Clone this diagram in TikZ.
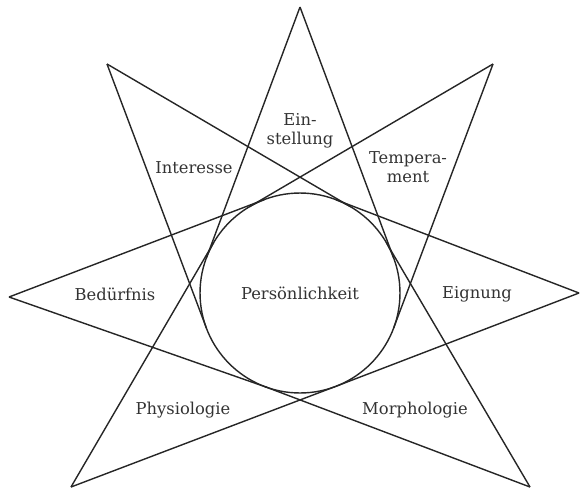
\documentclass[tikz,border=0pt]{standalone}
\usepackage{fontspec}
\setmainfont{DejaVu Serif}
\usepackage{tikz}
\usetikzlibrary{calc}

\begin{document}
\begin{tikzpicture}[x=0.02cm, y=0.02cm, line width=0.8pt, draw=black!85,
    lbl/.style={font=\fontsize{9.3}{11}\selectfont, text=black!80, align=center, inner sep=0pt}]
            \useasboundingbox (0,0) rectangle (580,488);

            \node[lbl, circle, draw, minimum size=4cm, outer sep=0pt] (pers) at (300,195) {Persönlichkeit};

            \coordinate (T) at (300,481);
            \coordinate (UL) at (107,424);
            \coordinate (UR) at (493,424);
            \coordinate (L) at (9,191);
            \coordinate (R) at (579,195);
            \coordinate (LL) at (71,1);
            \coordinate (LR) at (530,1);

            % points where the sides touch the circle
            \coordinate (T1) at (tangent cs:node=pers,point={(T)},solution=1);
            \coordinate (T2) at (tangent cs:node=pers,point={(T)},solution=2);
            \coordinate (UL1) at (tangent cs:node=pers,point={(UL)},solution=1);
            \coordinate (UL2) at (tangent cs:node=pers,point={(UL)},solution=2);
            \coordinate (UR1) at (tangent cs:node=pers,point={(UR)},solution=1);
            \coordinate (UR2) at (tangent cs:node=pers,point={(UR)},solution=2);
            \coordinate (L1) at (tangent cs:node=pers,point={(L)},solution=1);
            \coordinate (L2) at (tangent cs:node=pers,point={(L)},solution=2);
            \coordinate (R1) at (tangent cs:node=pers,point={(R)},solution=1);
            \coordinate (R2) at (tangent cs:node=pers,point={(R)},solution=2);
            \coordinate (LL1) at (tangent cs:node=pers,point={(LL)},solution=1);
            \coordinate (LL2) at (tangent cs:node=pers,point={(LL)},solution=2);
            \coordinate (LR1) at (tangent cs:node=pers,point={(LR)},solution=1);
            \coordinate (LR2) at (tangent cs:node=pers,point={(LR)},solution=2);

            \draw (T) -- (T1);
            \draw (T) -- (T2);
            \draw (UL) -- (UL1);
            \draw (UL) -- (UL2);
            \draw (UR) -- (UR1);
            \draw (UR) -- (UR2);
            \draw (L) -- (L1);
            \draw (L) -- (L2);
            \draw (R) -- (R1);
            \draw (R) -- (R2);
            \draw (LL) -- (LL1);
            \draw (LL) -- (LL2);
            \draw (LR) -- (LR1);
            \draw (LR) -- (LR2);

            \node[lbl] (einst) at (300,357) {Ein-\\stellung};
            \node[lbl] (inter) at (194,320) {Interesse};
            \node[lbl] (temp) at (408,321) {Tempera-\\ment};
            \node[lbl] (bed) at (115,194) {Bedürfnis};
            \node[lbl] (eign) at (477,194) {Eignung};
            \node[lbl] (phys) at (183,78) {Physiologie};
            \node[lbl] (morph) at (415,78) {Morphologie};
        \end{tikzpicture}
\end{document}
